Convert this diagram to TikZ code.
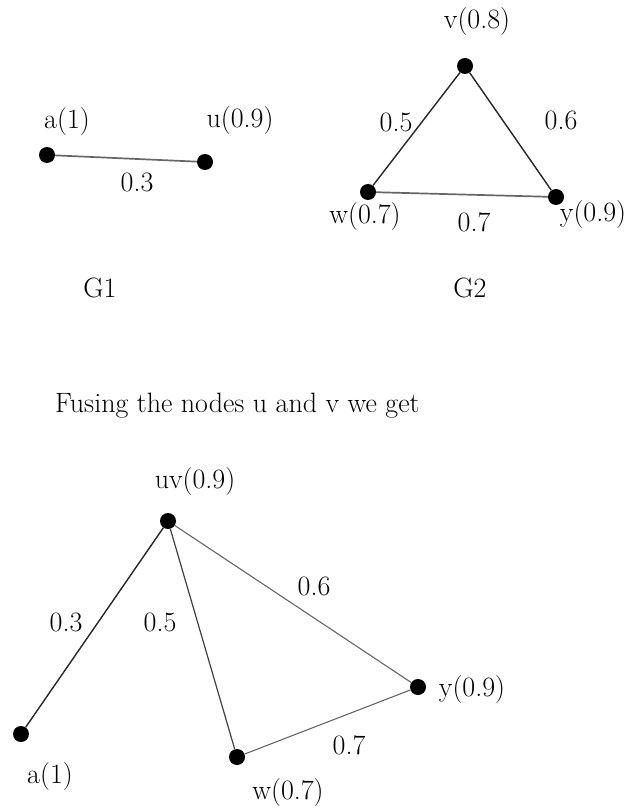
\documentclass[tikz,border=0pt]{standalone}
\usepackage{fontspec}
\begin{document}
\begin{tikzpicture}[x=1pt,y=-1pt,
  dot/.style={circle,fill=black,inner sep=0pt,minimum size=16pt},
  lbl/.style={inner sep=0pt,font=\fontsize{28}{34}\selectfont},
  grayedge/.style={line width=1.7pt,black!60},
  edge/.style={line width=1.4pt,black!85},
  midedge/.style={line width=1.2pt,black!75},
  thinedge/.style={line width=1.1pt,black!60}]
\useasboundingbox (0,0) rectangle (633,810);
% G1
\node[dot] (a1) at (47,155) {};
\node[dot] (u1) at (205,162) {};
\node[lbl] (la1) at (67,122) {a(1)};
\node[lbl] (lu1) at (240,121) {u(0.9)};
\node[lbl] (e1) at (137,182) {0.3};
\node[lbl] (g1) at (100,288) {G1};
\draw[grayedge] (a1) -- (u1);
% G2
\node[dot] (v2) at (465,66) {};
\node[dot] (w2) at (368,192) {};
\node[dot] (y2) at (556,197) {};
\node[lbl] (lv2) at (477,22) {v(0.8)};
\node[lbl] (lw2) at (365,217) {w(0.7)};
\node[lbl] (ly2) at (593,215) {y(0.9)};
\node[lbl] (e25) at (396,122) {0.5};
\node[lbl] (e26) at (561,120) {0.6};
\node[lbl] (e27) at (474,222) {0.7};
\node[lbl] (g2) at (470,288) {G2};
\draw[edge] (v2) -- (w2);
\draw[edge] (v2) -- (y2);
\draw[grayedge] (w2) -- (y2);
% text
\node[lbl,anchor=west] (txt) at (55,406) {Fusing the nodes u and v we get};
% fused graph
\node[dot] (uv) at (168,521) {};
\node[dot] (a3) at (21,734) {};
\node[dot] (w3) at (237,757) {};
\node[dot] (y3) at (418,687) {};
\node[lbl] (luv) at (195,482) {uv(0.9)};
\node[lbl] (la3) at (50,777) {a(1)};
\node[lbl] (lw3) at (288,793) {w(0.7)};
\node[lbl] (ly3) at (472,690) {y(0.9)};
\node[lbl] (f3) at (66,622) {0.3};
\node[lbl] (f5) at (160,622) {0.5};
\node[lbl] (f6) at (314,586) {0.6};
\node[lbl] (f7) at (349,745) {0.7};
\draw[edge] (uv) -- (a3);
\draw[midedge] (uv) -- (w3);
\draw[thinedge] (uv) -- (y3);
\draw[thinedge] (w3) -- (y3);
\end{tikzpicture}
\end{document}
